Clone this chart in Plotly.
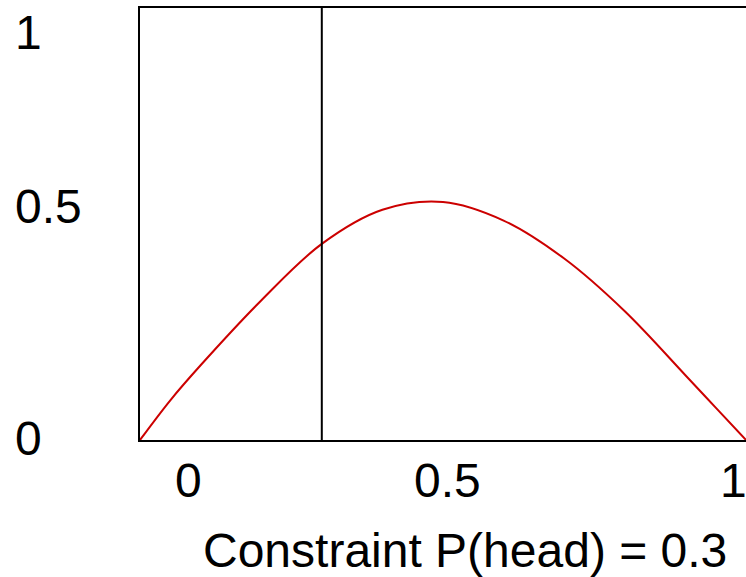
import plotly.graph_objects as go

# Entropy-like curve over P(head), sampled points
p_head = [0.0, 0.05, 0.1, 0.2, 0.3, 0.4, 0.5, 0.6, 0.7, 0.8, 0.9, 0.95, 1.0]
entropy = [0.0, 0.092, 0.173, 0.323, 0.454, 0.533, 0.551, 0.508, 0.420,
           0.298, 0.150, 0.075, 0.0]

constraint_p = 0.3

x_tick_vals = [0, 0.5, 1]
x_tick_text = ["0", "0.5", "1"]
y_tick_vals = [0, 0.5, 1]
y_tick_text = ["0", "0.5", "1"]

FONT = "Liberation Sans, Arial, Helvetica, sans-serif"
FS = 48

fig = go.Figure()
fig.add_trace(go.Scatter(
    x=p_head, y=entropy, mode="lines",
    line=dict(color="#cc0000", width=2, shape="spline", smoothing=1.0),
    hoverinfo="skip", showlegend=False,
))
fig.add_trace(go.Scatter(
    x=[constraint_p, constraint_p], y=[0, 1], mode="lines",
    line=dict(color="black", width=2),
    hoverinfo="skip", showlegend=False,
))

annotations = []
# hand-placed tick labels (pixel nudges per label)
x_nudge = [48, 4, -13]
for v, t, dx in zip(x_tick_vals, x_tick_text, x_nudge):
    annotations.append(dict(
        x=v, y=0, xref="x", yref="paper", text=t, showarrow=False,
        xanchor="center", yanchor="middle", xshift=dx, yshift=-40,
        font=dict(family=FONT, size=FS, color="black"),
    ))
y_nudge = [2, 18, -24]
for v, t, dy in zip(y_tick_vals, y_tick_text, y_nudge):
    annotations.append(dict(
        x=0, y=v, xref="paper", yref="y", text=t, showarrow=False,
        xanchor="left", yanchor="middle", xshift=-127, yshift=dy,
        font=dict(family=FONT, size=FS, color="black"),
    ))
annotations.append(dict(
    x=0.5, y=0, xref="paper", yref="paper",
    text=f"Constraint P(head) = {constraint_p}", showarrow=False,
    xanchor="center", yanchor="middle", xshift=22, yshift=-110,
    font=dict(family=FONT, size=FS, color="black"),
))

fig.update_layout(
    width=746, height=577,
    margin=dict(l=140, r=0, t=8, b=137),
    paper_bgcolor="white", plot_bgcolor="white",
    annotations=annotations,
    xaxis=dict(range=[0, 1], showgrid=False, zeroline=False,
               showticklabels=False, ticks="",
               showline=True, linecolor="black", linewidth=2, mirror=True),
    yaxis=dict(range=[0, 1], showgrid=False, zeroline=False,
               showticklabels=False, ticks="",
               showline=True, linecolor="black", linewidth=2),
)

fig.write_html("out.html")
